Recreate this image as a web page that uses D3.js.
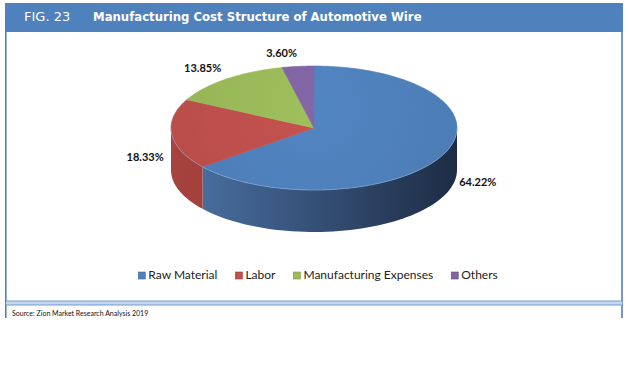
<!DOCTYPE html>
<html>
<head>
<meta charset="utf-8">
<script src="https://cdn.jsdelivr.net/npm/d3@7"></script>
<style>
  body { margin: 0; background: #fff; }
  svg { display: block; }
</style>
</head>
<body>
<script>
// data
const categories = ["Raw Material", "Labor", "Manufacturing Expenses", "Others"];
const shares = [64.22, 18.33, 13.85, 3.60];
const topColors = ["#4F81BD", "#C0504D", "#9BBB59", "#8064A2"];
const sideLight = ["#4d74a8", "#a8433f", "#86a24b", "#6c5589"];
const sideDark = ["#1d2c44", "#6e2624", "#56692f", "#44365a"];

const W = 629, H = 386;
const cx = 314, cy = 128, rx = 143, ry = 62, depth = 42;

const svg = d3.select("body").append("svg")
  .attr("width", W)
  .attr("height", H);

// frame
svg.append("rect").attr("x", 5).attr("y", 3).attr("width", 618).attr("height", 29).attr("fill", "#4F81BD");
svg.append("line").attr("x1", 5.8).attr("x2", 5.8).attr("y1", 32).attr("y2", 318)
  .attr("stroke", "#4F81BD").attr("stroke-width", 1.6);
svg.append("line").attr("x1", 622).attr("x2", 622).attr("y1", 32).attr("y2", 318)
  .attr("stroke", "#4F81BD").attr("stroke-width", 1.6);
svg.append("rect").attr("x", 6).attr("y", 301).attr("width", 616).attr("height", 4).attr("fill", "#c6d7ee");
svg.append("line").attr("x1", 6).attr("x2", 622).attr("y1", 301).attr("y2", 301).attr("stroke", "#6f9bd1").attr("stroke-width", 1);
svg.append("line").attr("x1", 6).attr("x2", 622).attr("y1", 305).attr("y2", 305).attr("stroke", "#6f9bd1").attr("stroke-width", 1);

svg.append("text").attr("x", 24).attr("y", 21)
  .attr("font-family", "DejaVu Sans").attr("font-size", 13).attr("fill", "#fff")
  .text("FIG. 23");
svg.append("text").attr("x", 93).attr("y", 21)
  .attr("font-family", "DejaVu Sans").attr("font-weight", "bold").attr("font-size", 11.7).attr("fill", "#fff")
  .text("Manufacturing Cost Structure of Automotive Wire");

svg.append("text").attr("x", 12).attr("y", 316)
  .attr("font-family", "Lato").attr("font-size", 7).attr("fill", "#111")
  .text("Source: Zion Market Research Analysis 2019");

// pie angles, clockwise from 12 o'clock
const pie = d3.pie().sort(null).value(d => d)(shares);

const px = a => cx + rx * Math.sin(a);
const py = a => cy - ry * Math.cos(a);

// gradients for the side walls
const defs = svg.append("defs");
pie.forEach((p, i) => {
  const g = defs.append("linearGradient").attr("id", "side" + i)
    .attr("gradientUnits", "userSpaceOnUse")
    .attr("x1", cx - rx).attr("x2", cx + rx).attr("y1", 0).attr("y2", 0);
  g.append("stop").attr("offset", "0%").attr("stop-color", sideLight[i]);
  g.append("stop").attr("offset", "100%").attr("stop-color", sideDark[i]);

  const t = defs.append("radialGradient").attr("id", "top" + i)
    .attr("gradientUnits", "userSpaceOnUse")
    .attr("cx", cx).attr("cy", cy - 20).attr("r", rx * 1.1);
  t.append("stop").attr("offset", "0%").attr("stop-color", d3.color(topColors[i]).brighter(0.08));
  t.append("stop").attr("offset", "100%").attr("stop-color", d3.color(topColors[i]).darker(0.12));
});

// side walls (front half only: angles between pi/2 and 3pi/2)
pie.forEach((p, i) => {
  const a0 = Math.max(p.startAngle, Math.PI / 2);
  const a1 = Math.min(p.endAngle, 3 * Math.PI / 2);
  if (a1 <= a0) return;
  const steps = d3.range(0, 61).map(k => a0 + (a1 - a0) * k / 60);
  const topPts = steps.map(a => [px(a), py(a)]);
  const botPts = steps.slice().reverse().map(a => [px(a), py(a) + depth]);
  svg.append("path")
    .attr("d", d3.line()(topPts.concat(botPts)) + "Z")
    .attr("fill", "url(#side" + i + ")");
});

// top faces
pie.forEach((p, i) => {
  const n = Math.max(4, Math.ceil((p.endAngle - p.startAngle) * 40));
  const pts = [[cx, cy]].concat(d3.range(0, n + 1).map(k => {
    const a = p.startAngle + (p.endAngle - p.startAngle) * k / n;
    return [px(a), py(a)];
  }));
  svg.append("path")
    .attr("d", d3.line()(pts) + "Z")
    .attr("fill", "url(#top" + i + ")")
    .attr("stroke", "url(#top" + i + ")")
    .attr("stroke-width", 0.6);
});

// thin highlight along the front rim
svg.append("path")
  .attr("d", d3.line()(d3.range(0, 61).map(k => {
    const a = Math.PI / 2 + Math.PI * k / 60;
    return [px(a), py(a)];
  })))
  .attr("fill", "none").attr("stroke", "#8fb1dc").attr("stroke-width", 0.8).attr("opacity", 0.6);

// labels
pie.forEach((p, i) => {
  const a = (p.startAngle + p.endAngle) / 2;
  const s = Math.sin(a), c = Math.cos(a);
  const x = cx + (rx + (s < 0 ? 8 : 18)) * s;
  const y = cy - ry * 1.2 * c + (c < 0 ? depth * 0.55 : 0);
  svg.append("text")
    .attr("x", x).attr("y", y)
    .attr("text-anchor", s < 0 ? "end" : "start")
    .attr("dominant-baseline", "middle")
    .attr("font-family", "Lato").attr("font-weight", "bold").attr("font-size", 11)
    .attr("fill", "#111")
    .text(shares[i].toFixed(2) + "%");
});

// legend
const legend = svg.append("g");
let lx = 0;
categories.forEach((name, i) => {
  const g = legend.append("g").attr("transform", "translate(" + lx + ",0)");
  g.append("rect").attr("x", 0).attr("y", -4).attr("width", 7).attr("height", 7)
    .attr("fill", topColors[i]).attr("stroke", d3.color(topColors[i]).darker(0.6)).attr("stroke-width", 0.6);
  const t = g.append("text").attr("x", 10).attr("y", 0)
    .attr("dominant-baseline", "middle")
    .attr("font-family", "Lato").attr("font-size", 12).attr("fill", "#222")
    .text(name);
  lx += 10 + t.node().getComputedTextLength() + 18;
});
legend.attr("transform", "translate(" + (318 - (lx - 18) / 2) + ",276)");
</script>
</body>
</html>
